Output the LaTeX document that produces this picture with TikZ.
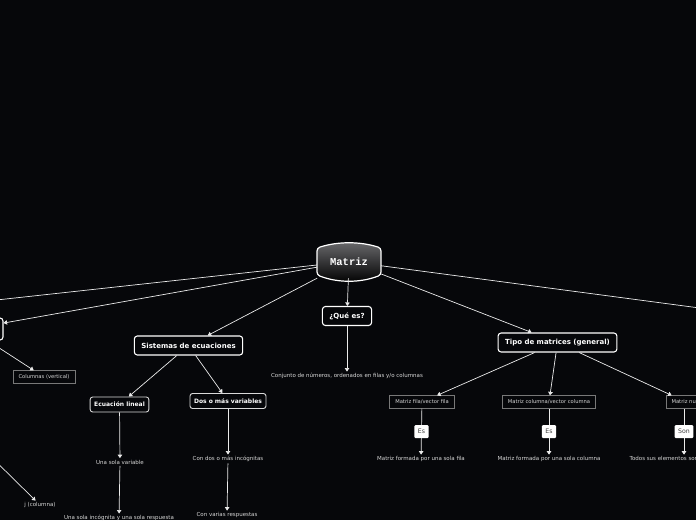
\documentclass[tikz,border=0pt]{standalone}
\usepackage{fontspec}
\setmainfont{DejaVu Sans}
\newfontfamily\matrizfont{Liberation Mono}
\usepackage{xcolor}
\usepackage{tikz}
\usetikzlibrary{arrows.meta, positioning}

\definecolor{fondo}{RGB}{6,7,10}
\definecolor{cajagris}{RGB}{120,120,120}
\definecolor{textogris}{RGB}{215,215,215}
\definecolor{linea}{RGB}{235,235,235}
\definecolor{sombra}{RGB}{105,105,108}

\tikzset{
	conector/.style={draw=linea, line width=0.7pt, -{Triangle[length=3.5pt,width=4.5pt]}},
	tema/.style={draw=white, line width=1.1pt, rounded corners=3pt, fill=fondo, text=white,
		font=\bfseries\fontsize{7}{8}\selectfont, inner xsep=7pt, minimum height=19pt},
	subtema/.style={draw=white!85!black, line width=0.9pt, rounded corners=2.5pt, fill=fondo, text=white,
		font=\bfseries\fontsize{6}{7}\selectfont, inner xsep=4pt, minimum height=15pt},
	caja/.style={draw=cajagris, line width=0.8pt, fill=fondo, text=textogris,
		font=\fontsize{5.2}{6}\selectfont, inner xsep=5.5pt, minimum height=12.5pt},
	texto/.style={text=textogris, font=\fontsize{5.5}{6}\selectfont, inner sep=1.5pt},
	etiqueta/.style={fill=white, rounded corners=1pt, text=black!75,
		font=\fontsize{6.2}{7}\selectfont, inner xsep=3.5pt, minimum height=13pt},
}

\begin{document}
\begin{tikzpicture}[x=1pt, y=-1pt]
	\useasboundingbox (0,0) rectangle (696,520);
	\clip (0,0) rectangle (696,520);
	\fill[fondo] (0,0) rectangle (696,520);

	% Central node:
	\path[top color=sombra, bottom color=black, draw=white, line width=1.2pt, rounded corners=3pt]
		(317,248) .. controls (338,241.3) and (360,241.3) .. (381,248) -- (381,275)
		.. controls (360,283) and (338,283) .. (317,275) -- cycle;
	\node[minimum width=64pt, minimum height=33pt, inner sep=0pt, text=white,
		font=\matrizfont\bfseries\fontsize{10.5}{12}\selectfont](matriz) at (349,261.5){Matriz};

	% Nodes:
	\coordinate (izq) at (-150,316);
	\coordinate (der) at (760,316);
	\coordinate (izqb) at (-30,436);
	\node[tema, minimum width=66pt, minimum height=22pt](filas) at (-30,329){};
	\node[caja](columnas) at (44,377){Columnas (vertical)};
	\node[texto](jcol) at (40,505){j (columna)};

	\node[tema](sistemas) at (188.5,345.5){Sistemas de ecuaciones};
	\node[subtema](ecuacion) at (119.5,404.5){Ecuación lineal};
	\node[subtema](dosomas) at (228,401){Dos o más variables};
	\node[texto](unasola) at (120,462){Una sola variable};
	\node[texto](unaincog) at (119,518){Una sola incógnita y una sola respuesta};
	\node[texto](condos) at (228,459){Con dos o más incógnitas};
	\node[texto](convarias) at (227,515){Con varias respuestas};

	\node[tema](quees) at (347,316){¿Qué es?};
	\node[texto](conjunto) at (347,376){Conjunto de números, ordenados en filas y/o columnas};

	\node[tema](tipo) at (557.5,342.5){Tipo de matrices (general)};
	\node[caja](fila) at (422,402){Matriz fila/vector fila};
	\node[caja](columna) at (549,402){Matriz columna/vector columna};
	\node[caja](nula) at (686,402){Matriz nula};
	\node[texto](filadesc) at (421,459){Matriz formada por una sola fila};
	\node[texto](columnadesc) at (549,459){Matriz formada por una sola columna};
	\node[texto](nuladesc) at (684,459){Todos sus elementos son iguales a cero};

	% Connectors:
	\draw[conector] (matriz) -- (izq);
	\draw[conector] (matriz) -- (filas);
	\draw[conector] (matriz) -- (sistemas);
	\draw[conector] (matriz) -- (quees);
	\draw[conector] (matriz) -- (tipo);
	\draw[conector] (matriz) -- (der);
	\draw[conector] (filas) -- (columnas);
	\draw[conector] (izqb) -- (jcol);

	\draw[conector] (sistemas) -- (ecuacion);
	\draw[conector] (sistemas) -- (dosomas);
	\draw[conector] (ecuacion) -- (unasola);
	\draw[conector] (unasola) -- (unaincog);
	\draw[conector] (dosomas) -- (condos);
	\draw[conector] (condos) -- (convarias);
	\draw[conector] (quees) -- (conjunto);

	\draw[conector] (tipo) -- (fila);
	\draw[conector] (tipo) -- (columna);
	\draw[conector] (tipo) -- (nula);
	\draw[conector] (fila) -- node[etiqueta](esfila){Es} (filadesc);
	\draw[conector] (columna) -- node[etiqueta](escolumna){Es} (columnadesc);
	\draw[conector] (nula.south -| nuladesc) -- node[etiqueta](sonnula){Son} (nuladesc);
\end{tikzpicture}
\end{document}
